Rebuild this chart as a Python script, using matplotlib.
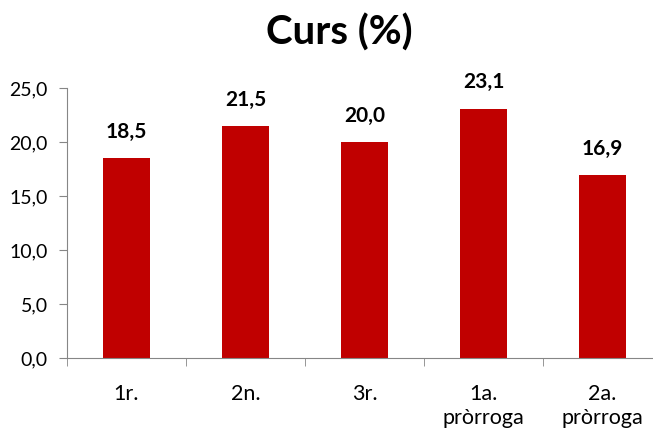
import matplotlib.pyplot as plt
import numpy as np

categories = ['1r.', '2n.', '3r.', '1a.\npròrroga', '2a.\npròrroga']
values = [18.5, 21.5, 20.0, 23.1, 16.9]
yticks = [0, 5, 10, 15, 20, 25]

plt.rcParams['font.family'] = ['Lato', 'DejaVu Sans']

fig = plt.figure(figsize=(6.53, 4.32), dpi=100)
ax = fig.add_axes([67 / 653, 1 - 358 / 432, 595 / 653, 270 / 432])

x = np.arange(len(categories))
ax.bar(x, values, width=0.4, color='#C00000')
for xi, v in zip(x, values):
    ax.text(xi, v + 1.5, f'{v:.1f}'.replace('.', ','), ha='center', va='bottom',
            fontsize=15, fontweight='bold')

ax.set_xlim(-0.5, len(categories) - 0.5)
ax.set_ylim(0, 25)
ax.set_yticks(yticks)
ax.set_yticklabels([f'{t:.1f}'.replace('.', ',') for t in yticks], fontsize=14)
ax.set_xticks(x)
ax.set_xticklabels(categories, fontsize=15.5, linespacing=1.2)
ax.set_xticks(np.arange(len(categories) + 1) - 0.5, minor=True)
ax.tick_params(axis='x', which='major', length=0, pad=19)
ax.tick_params(axis='x', which='minor', length=6, color='#868686')
ax.tick_params(axis='y', length=6, color='#868686', pad=8)

for s in ['top', 'right']:
    ax.spines[s].set_visible(False)
for s in ['left', 'bottom']:
    ax.spines[s].set_color('#868686')

fig.text(0.52, 0.925, 'Curs (%)', ha='center', va='center', fontsize=29, fontweight='bold')

fig.savefig('out.png', dpi=100)
